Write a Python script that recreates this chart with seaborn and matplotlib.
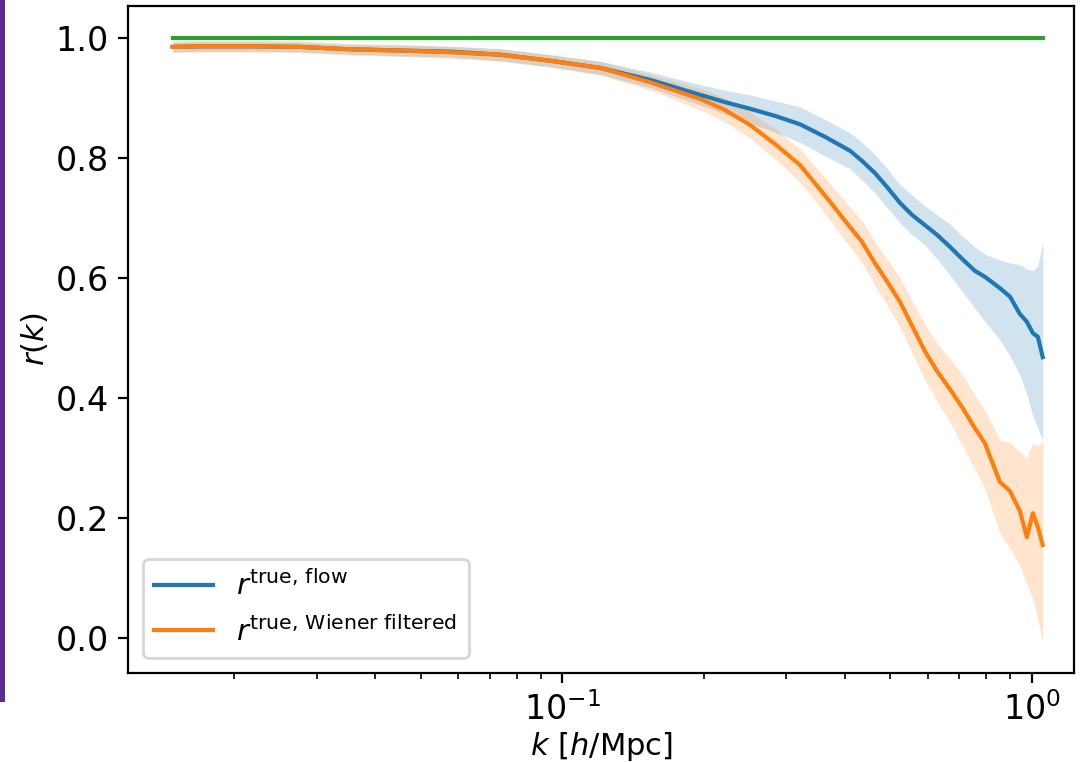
import numpy as np
import pandas as pd
import matplotlib
matplotlib.use("Agg")
import matplotlib.pyplot as plt
import seaborn as sns
from matplotlib.patches import Rectangle

# ---------- data ----------
k = [0.0148, 0.0170, 0.0217, 0.0277, 0.0354, 0.0452, 0.0578, 0.0738, 0.0943,
     0.1205, 0.154, 0.197, 0.222, 0.251, 0.284, 0.321, 0.363, 0.410, 0.435,
     0.463, 0.491, 0.524, 0.556, 0.592, 0.628, 0.669, 0.710, 0.756, 0.794,
     0.855, 0.898, 0.943, 0.976, 1.005, 1.030, 1.055]

r_flow = [0.985, 0.986, 0.986, 0.985, 0.981, 0.979, 0.977, 0.972, 0.962,
          0.950, 0.930, 0.905, 0.893, 0.882, 0.870, 0.856, 0.835, 0.812, 0.795,
          0.775, 0.752, 0.725, 0.705, 0.688, 0.672, 0.652, 0.632, 0.612, 0.602,
          0.583, 0.569, 0.540, 0.527, 0.508, 0.502, 0.468]
flow_lo = [0.977, 0.978, 0.978, 0.977, 0.973, 0.970, 0.968, 0.962, 0.952,
           0.939, 0.917, 0.888, 0.873, 0.858, 0.843, 0.826, 0.803, 0.782, 0.763,
           0.742, 0.718, 0.692, 0.672, 0.655, 0.632, 0.605, 0.578, 0.550, 0.528,
           0.497, 0.470, 0.438, 0.405, 0.370, 0.350, 0.330]
flow_hi = [0.993, 0.994, 0.994, 0.993, 0.989, 0.988, 0.986, 0.982, 0.972,
           0.961, 0.943, 0.922, 0.913, 0.905, 0.895, 0.885, 0.864, 0.842, 0.826,
           0.806, 0.783, 0.755, 0.738, 0.720, 0.705, 0.690, 0.670, 0.652, 0.640,
           0.630, 0.625, 0.622, 0.615, 0.612, 0.620, 0.660]

r_wf = [0.985, 0.986, 0.986, 0.985, 0.981, 0.979, 0.976, 0.972, 0.962,
        0.950, 0.926, 0.898, 0.880, 0.855, 0.823, 0.788, 0.737, 0.685, 0.660,
        0.625, 0.595, 0.560, 0.520, 0.478, 0.445, 0.415, 0.385, 0.350, 0.325,
        0.260, 0.245, 0.212, 0.168, 0.208, 0.185, 0.155]
wf_lo = [0.975, 0.976, 0.976, 0.975, 0.971, 0.969, 0.966, 0.961, 0.951,
         0.938, 0.913, 0.880, 0.860, 0.833, 0.798, 0.760, 0.707, 0.652, 0.625,
         0.588, 0.556, 0.518, 0.475, 0.430, 0.395, 0.360, 0.322, 0.282, 0.250,
         0.175, 0.150, 0.120, 0.090, 0.065, 0.030, -0.008]
wf_hi = [0.995, 0.996, 0.996, 0.995, 0.991, 0.989, 0.986, 0.982, 0.972,
         0.961, 0.939, 0.916, 0.900, 0.877, 0.848, 0.815, 0.767, 0.718, 0.695,
         0.660, 0.632, 0.600, 0.562, 0.522, 0.492, 0.465, 0.440, 0.405, 0.380,
         0.330, 0.325, 0.310, 0.300, 0.325, 0.320, 0.330]

r_true = [1.0] * len(k)

df = pd.DataFrame({"k": k, "flow": r_flow, "wf": r_wf, "true": r_true})

# ---------- plot ----------
fig, ax = plt.subplots(figsize=(5.43, 3.81), dpi=200)
fig.subplots_adjust(left=0.118, right=0.989, bottom=0.117, top=0.992)

sns.lineplot(data=df, x="k", y="flow", color="C0", lw=1.5, ax=ax,
             label=r"$r^{\rm true,\,flow}$")
ax.fill_between(k, flow_lo, flow_hi, color="C0", alpha=0.2, lw=0)
sns.lineplot(data=df, x="k", y="wf", color="C1", lw=1.5, ax=ax,
             label=r"$r^{\rm true,\,Wiener\ filtered}$")
ax.fill_between(k, wf_lo, wf_hi, color="C1", alpha=0.2, lw=0)
sns.lineplot(data=df, x="k", y="true", color="C2", lw=1.5, ax=ax)

ax.set_xscale("log")
ax.set_xlim(0.0119, 1.23)
ax.set_ylim(-0.058, 1.053)
ax.set_yticks([0.0, 0.2, 0.4, 0.6, 0.8, 1.0])
ax.tick_params(axis="both", which="major", labelsize=12)
ax.set_xlabel(r"$k\ [h/{\rm Mpc}]$", fontsize=11, labelpad=1)
ax.set_ylabel(r"$r(k)$", fontsize=11, labelpad=2)
ax.legend(loc="lower left", fontsize=10.5)

# purple bar at the left edge of the screenshot
fig.patches.append(Rectangle((0, 0.079), 0.0046, 0.921, transform=fig.transFigure,
                             facecolor="#5b2c8f", edgecolor="none"))

plt.savefig("out.png", dpi=200)
plt.close()
